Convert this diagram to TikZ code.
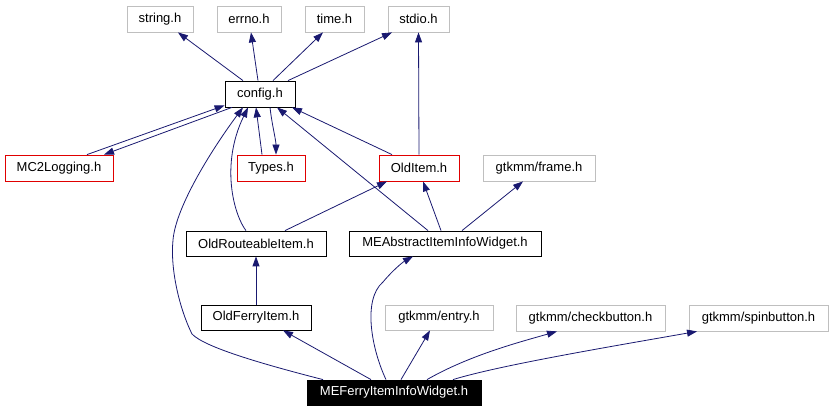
\documentclass[tikz,border=0pt]{standalone}
\usepackage{fontspec}
\setmainfont{Liberation Sans}
\usetikzlibrary{arrows.meta}
\definecolor{edgec}{HTML}{191970}
\definecolor{greyc}{HTML}{BFBFBF}
\definecolor{redc}{HTML}{E00000}
\begin{document}
\begin{tikzpicture}[x=1pt,y=-1pt,
  box/.style={draw, line width=0.8pt, inner sep=0pt, minimum height=26pt, anchor=center, font=\fontsize{13}{15}\selectfont},
  ext/.style={box, draw=greyc},
  red/.style={box, draw=redc},
  blk/.style={box, draw=black},
  cur/.style={box, draw=black, fill=black, text=white},
  ed/.style={draw=edgec, line width=0.8pt, -{Triangle[length=10pt,width=7pt]}, fill=none}
]
\useasboundingbox (0,0) rectangle (833,411);
\node[ext, minimum width=66pt] (string) at (160,19) {string.h};
\node[ext, minimum width=64pt] (errno) at (249,19) {errno.h};
\node[ext, minimum width=59pt] (time) at (334.5,19) {time.h};
\node[ext, minimum width=61pt] (stdio) at (418.5,19) {stdio.h};
\node[blk, minimum width=70pt] (config) at (260,94) {config.h};
\node[red, minimum width=108pt] (mc2) at (59,168) {MC2Logging.h};
\node[red, minimum width=68pt] (types) at (271,168) {Types.h};
\node[red, minimum width=80pt] (olditem) at (419,168) {OldItem.h};
\node[ext, minimum width=112pt] (frame) at (539,168) {gtkmm/frame.h};
\node[blk, minimum width=140pt, minimum height=25pt] (oldroute) at (256,243.5) {OldRouteableItem.h};
\node[blk, minimum width=192pt, minimum height=25pt] (meabs) at (445,243.5) {MEAbstractItemInfoWidget.h};
\node[blk, minimum width=110pt, minimum height=25pt] (oldferry) at (256,317.5) {OldFerryItem.h};
\node[ext, minimum width=108pt, minimum height=25pt] (entry) at (439,317.5) {gtkmm/entry.h};
\node[ext, minimum width=149pt] (check) at (590.5,318) {gtkmm/checkbutton.h};
\node[ext, minimum width=139pt] (spin) at (758.5,318) {gtkmm/spinbutton.h};
\node[cur, minimum width=174pt, minimum height=25pt] (meferry) at (394,392.5) {MEFerryItemInfoWidget.h};

% config includes
\draw[ed] ([xshift=-17pt]config.north) -- ([xshift=18pt]string.south);
\draw[ed] ([xshift=-2pt]config.north) -- ([xshift=2pt]errno.south);
\draw[ed] ([xshift=13pt]config.north) -- ([xshift=-11.5pt]time.south);
\draw[ed] ([xshift=28pt]config.north) -- ([xshift=-26.5pt]stdio.south);
\draw[ed] (olditem.north) -- (stdio.south);
% MC2Logging <-> config
\draw[ed] ([xshift=28pt]mc2.north) -- ([yshift=2pt]config.south west);
\draw[ed] ([xshift=-28pt]config.south) -- ([xshift=45pt]mc2.north);
% Types <-> config
\draw[ed] ([xshift=-9pt]types.north) -- ([xshift=-4pt]config.south);
\draw[ed] ([xshift=10pt]config.south) .. controls (272,125) and (276,140) .. ([xshift=5pt]types.north);
% OldItem, MEAbstract -> config
\draw[ed] ([xshift=-27pt]olditem.north) -- ([xshift=32pt]config.south);
\draw[ed] ([xshift=-17pt]meabs.north) -- ([xshift=17pt]config.south);
% OldRouteable -> config
\draw[ed] ([xshift=-10pt]oldroute.north) .. controls (234,215) and (220,165) .. ([xshift=-12pt]config.south);
% MEFerry -> config
\draw[ed] ([xshift=-71pt]meferry.north) .. controls (270,366) and (205,348) .. (192,334)
  .. controls (180,310) and (170,270) .. (173,240)
  .. controls (176,205) and (215,145) .. ([xshift=-17pt]config.south);
% OldRouteable -> OldItem
\draw[ed] ([xshift=29pt]oldroute.north) -- ([xshift=-32pt]olditem.south);
% MEAbstract -> OldItem, frame
\draw[ed] ([xshift=-4pt]meabs.north) -- ([xshift=4pt]olditem.south);
\draw[ed] ([xshift=17pt]meabs.north) -- ([xshift=-16pt]frame.south);
% OldFerry -> OldRouteable
\draw[ed] (oldferry.north) -- (oldroute.south);
% MEFerry includes
\draw[ed] ([xshift=-23pt]meferry.north) -- ([xshift=27pt]oldferry.south);
\draw[ed] ([xshift=-8pt]meferry.north) .. controls (372,350) and (362,300) .. (383,282)
  .. controls (393,270) and (403,262) .. ([xshift=-32pt]meabs.south);
\draw[ed] ([xshift=7pt]meferry.north) -- ([xshift=-9pt]entry.south);
\draw[ed] ([xshift=33pt]meferry.north) .. controls (470,355) and (520,342) .. ([xshift=-33.5pt]check.south);
\draw[ed] ([xshift=59pt]meferry.north) .. controls (500,365) and (620,345) .. ([xshift=-61.5pt]spin.south);
\end{tikzpicture}
\end{document}
